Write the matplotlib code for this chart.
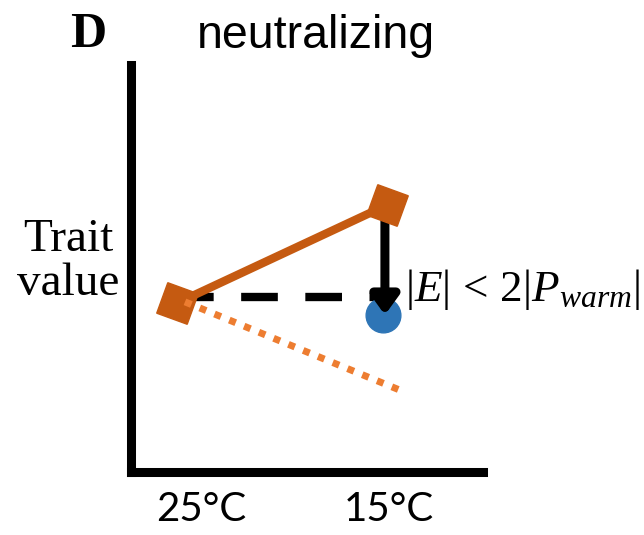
import matplotlib
matplotlib.use("Agg")
import matplotlib.pyplot as plt

# environments (x positions of the two temperatures) and tick labels
temps = ["25°C", "15°C"]
tick_pos = [0.114, 1.01]
env_x = [0.0, 1.0]

# plastic response (warm -> cold) and evolved value in the cold
plastic = [0.415, 0.656]
evolved_x = 0.979
evolved_y = 0.386
warm_level = 0.429          # dashed reference line at the warm value
dotted_x = [0.038, 1.062]   # ancestral-plasticity projection
dotted_y = [0.418, 0.201]
arrow_x = 0.99

plt.rcParams["mathtext.fontset"] = "custom"
plt.rcParams["mathtext.rm"] = "Liberation Serif"
plt.rcParams["mathtext.it"] = "Liberation Serif:italic"

fig = plt.figure(figsize=(6.44, 5.35), dpi=100)
ax = fig.add_axes([131 / 644, (535 - 472) / 535, (483 - 131) / 644, (472 - 65) / 535])
ax.set_xlim(-0.219, 1.457)
ax.set_ylim(0, 1)

ax.plot([env_x[0], arrow_x], [warm_level, warm_level], color="black", lw=6,
        dashes=(4.4, 3.3), zorder=2)
ax.plot(env_x, plastic, color="#c55a11", lw=6, zorder=3)
ax.plot(env_x, plastic, ls="none", marker=(4, 0, 25), markersize=33,
        color="#c55a11", zorder=5)
ax.plot(evolved_x, evolved_y, "o", color="#2e75b6", markersize=25, zorder=3)
ax.plot(dotted_x, dotted_y, color="#ed7d31", lw=5, dashes=(1.0, 1.3),
        dash_capstyle="butt", zorder=6)
ax.annotate("", xy=(arrow_x, evolved_y), xytext=(arrow_x, plastic[1]),
            arrowprops=dict(arrowstyle="-|>,head_length=1.1,head_width=0.8",
                            color="black", lw=6.5, shrinkA=0, shrinkB=0),
            zorder=4)

ax.text(1.085, 0.42, r"$|E|\,<\,2|P_{warm}|$", fontsize=32.5, ha="left",
        va="baseline", transform=ax.transData)

ax.set_xticks(tick_pos)
ax.set_xticklabels(temps, fontsize=29, family="Lato")
ax.set_yticks([])
ax.tick_params(axis="x", length=0, pad=14)
for side in ["top", "right"]:
    ax.spines[side].set_visible(False)
for side in ["left", "bottom"]:
    ax.spines[side].set_linewidth(6.5)
    ax.spines[side].set_capstyle("projecting")

fig.text(68 / 644, 1 - 262 / 535, "Trait\nvalue", fontsize=34, family="Liberation Serif",
         ha="center", va="center", linespacing=1.05)
fig.text(316 / 644, 1 - 48 / 535, "neutralizing", fontsize=33.5,
         family="Liberation Sans", ha="center", va="baseline")
fig.text(70 / 644, 1 - 47 / 535, "D", fontsize=36, family="Liberation Serif",
         weight="bold", ha="left", va="baseline")

fig.savefig("out.png", dpi=100)
